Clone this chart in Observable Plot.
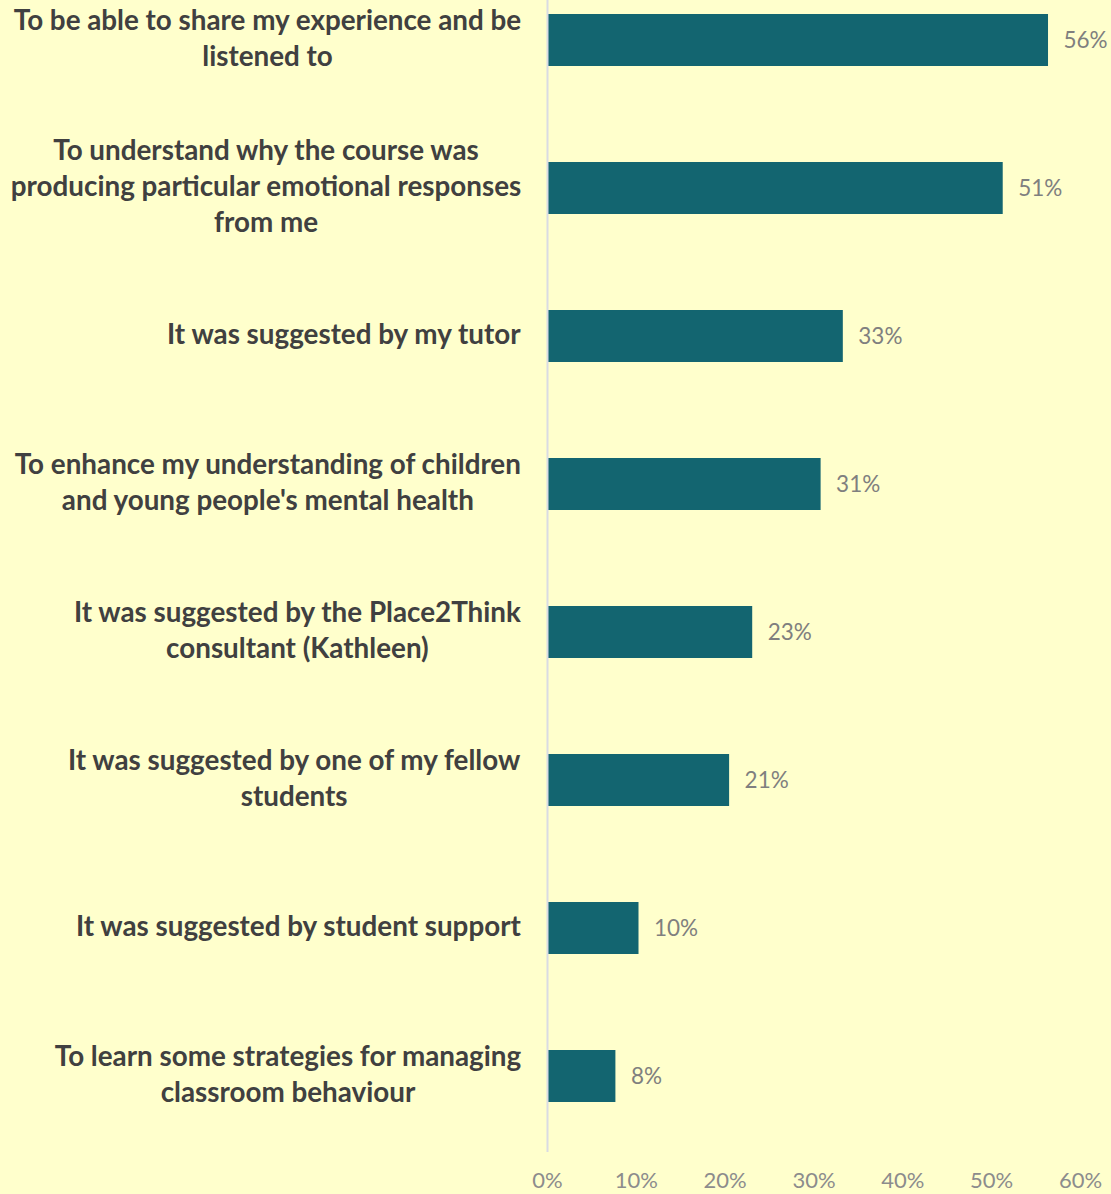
<!DOCTYPE html>
<html>
<head>
<meta charset="utf-8">
<script src="https://cdn.jsdelivr.net/npm/d3@7"></script>
<script src="https://cdn.jsdelivr.net/npm/@observablehq/plot@0.6"></script>
<style>
  html, body { margin: 0; padding: 0; background: #FFFFCC; }
  #chart { width: 1111px; height: 1194px; overflow: hidden; }
</style>
</head>
<body>
<div id="chart"></div>
<script>
const categories = [
  "To be able to share my experience and be\nlistened to",
  "To understand why the course was\nproducing particular emotional responses\nfrom me",
  "It was suggested by my tutor",
  "To enhance my understanding of children\nand young people's mental health",
  "It was suggested by the Place2Think\nconsultant (Kathleen)",
  "It was suggested by one of my fellow\nstudents",
  "It was suggested by student support",
  "To learn some strategies for managing\nclassroom behaviour"
];
const values = [0.564, 0.513, 0.333, 0.308, 0.231, 0.205, 0.103, 0.077];
const xTicks = [0, 0.1, 0.2, 0.3, 0.4, 0.5, 0.6];

const data = categories.map((c, i) => ({category: c, value: values[i]}));

const labelSize = 27.8;
const canvas = document.createElement("canvas");
const ctx = canvas.getContext("2d");
ctx.font = `bold ${labelSize}px Lato`;
const labelRight = 521, zeroX = 547;

const labelMarks = data.map(d => {
  const w = d3.max(d.category.split("\n"), l => ctx.measureText(l).width);
  const dx = (labelRight - w / 2) - zeroX;
  return Plot.text([d], {
    x: () => 0, y: "category", text: "category",
    textAnchor: "middle", lineAnchor: "middle", lineHeight: 36 / labelSize,
    dx, dy: -4, fontSize: labelSize, fontWeight: "bold", fill: "#404040"
  });
});

const plot = Plot.plot({
  width: 1111,
  height: 1194,
  marginLeft: 547,
  marginRight: 31,
  marginTop: 0,
  marginBottom: 42,
  style: {background: "#FFFFCC", fontFamily: "Lato", overflow: "hidden"},
  x: {domain: [0, 0.6], axis: null},
  y: {domain: categories, range: [-35, 1151], paddingInner: 0.65, paddingOuter: 0.325, axis: null},
  marks: [
    Plot.barX(data, {x: "value", y: "category", fill: "#136570", insetLeft: 1}),
    Plot.ruleX([0], {stroke: "#d9dbe3", strokeWidth: 2}),
    Plot.text(data, {
      x: "value", y: "category", text: d => d3.format(".0%")(d.value),
      textAnchor: "start", dx: 15, fontSize: 22.5, fill: "#7f7f7f"
    }),
    Plot.axisX(xTicks, {
      tickFormat: d3.format(".0%"), tickSize: 0, tickPadding: 20,
      fontSize: 22, fill: "#8c8c8c", label: null
    }),
    ...labelMarks
  ]
});
document.getElementById("chart").appendChild(plot);
</script>
</body>
</html>
